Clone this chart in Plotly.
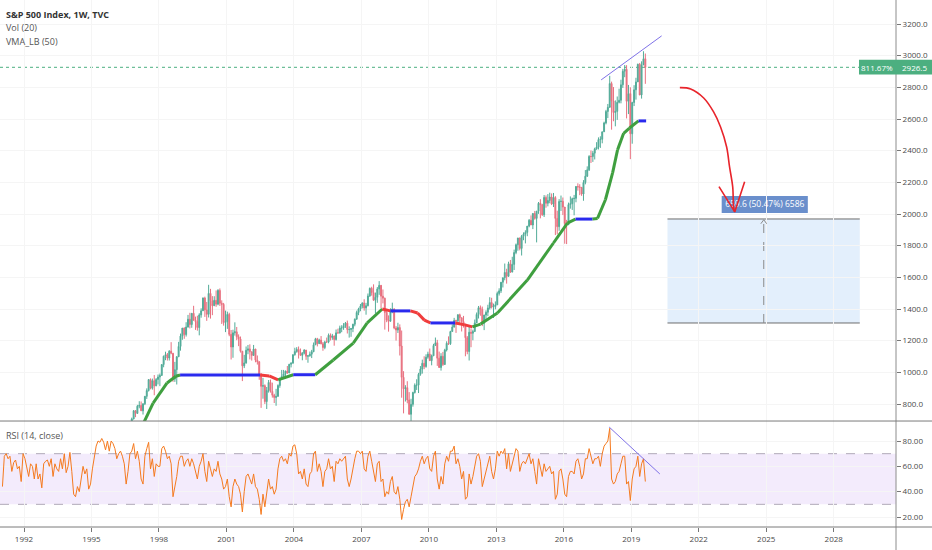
import plotly.graph_objects as go

# ---------------- DATA ----------------
candle_start_year = 1996
candle_start_month = 7
prev_close = 670.6

closes = [
    639.9, 651.99, 687.3, 705.3, 757.0, 740.7,
    786.2, 791.0, 757.1, 801.3, 848.3, 885.1, 954.3, 899.5, 947.3, 914.6, 955.4, 970.4,
    980.3, 1049.3, 1101.8, 1111.8, 1090.8, 1133.8, 1120.7, 957.3, 1017.0, 1098.7, 1163.6, 1229.2,
    1279.6, 1238.3, 1286.4, 1335.2, 1301.8, 1372.7, 1328.7, 1320.4, 1282.7, 1362.9, 1388.9, 1469.3,
    1394.5, 1366.4, 1498.6, 1452.4, 1420.6, 1454.6, 1430.8, 1517.7, 1436.5, 1429.4, 1315.2, 1320.3,
    1366.0, 1239.9, 1160.3, 1249.5, 1255.8, 1224.4, 1211.2, 1133.6, 1040.9, 1059.8, 1139.5, 1148.1,
    1130.2, 1106.7, 1147.4, 1076.9, 1067.1, 989.8, 911.6, 916.1, 815.3, 885.8, 936.3, 879.8,
    855.7, 841.2, 848.2, 916.9, 963.6, 974.5, 990.3, 1008.0, 996.0, 1050.7, 1058.2, 1111.9,
    1131.1, 1144.9, 1126.2, 1107.3, 1120.7, 1140.8, 1101.7, 1104.2, 1114.6, 1130.2, 1173.8, 1211.9,
    1181.3, 1203.6, 1180.6, 1156.9, 1191.5, 1191.3, 1234.2, 1220.3, 1228.8, 1207.0, 1249.5, 1248.3,
    1280.1, 1280.7, 1294.8, 1310.6, 1270.1, 1270.2, 1276.7, 1303.8, 1335.9, 1377.9, 1400.6, 1418.3,
    1438.2, 1406.8, 1420.9, 1482.4, 1530.6, 1503.4, 1455.3, 1474.0, 1526.8, 1549.4, 1481.1, 1468.4,
    1378.6, 1330.6, 1322.7, 1385.6, 1400.4, 1280.0, 1267.4, 1282.8, 1166.4, 968.8, 896.2, 903.3,
    825.9, 735.1, 797.9, 872.8, 919.1, 919.3, 987.5, 1020.6, 1057.1, 1036.2, 1095.6, 1115.1,
    1073.9, 1104.5, 1169.4, 1186.7, 1089.4, 1030.7, 1101.6, 1049.3, 1141.2, 1183.3, 1180.6, 1257.6,
    1286.1, 1327.2, 1325.8, 1363.6, 1345.2, 1320.6, 1292.3, 1218.9, 1131.4, 1253.3, 1247.0, 1257.6,
    1312.4, 1365.7, 1408.5, 1397.9, 1310.3, 1362.2, 1379.3, 1406.6, 1440.7, 1412.2, 1416.2, 1426.2,
    1498.1, 1514.7, 1569.2, 1597.6, 1630.7, 1606.3, 1685.7, 1633.0, 1681.6, 1756.5, 1805.8, 1848.4,
    1782.6, 1859.5, 1872.3, 1883.9, 1923.6, 1960.2, 1930.7, 2003.4, 1972.3, 2018.1, 2067.6, 2058.9,
    1995.0, 2104.5, 2067.9, 2085.5, 2107.4, 2063.1, 2103.8, 1972.2, 1920.0, 2079.4, 2080.4, 2043.9,
    1940.2, 1932.2, 2059.7, 2065.3, 2096.9, 2098.9, 2173.6, 2171.0, 2168.3, 2126.2, 2199.0, 2238.8,
    2278.9, 2363.6, 2362.7, 2384.2, 2411.8, 2423.4, 2470.3, 2471.7, 2519.4, 2575.3, 2647.6, 2673.6,
    2823.8, 2713.8, 2640.9, 2648.1, 2705.3, 2718.4, 2816.3, 2901.5, 2914.0, 2711.7, 2760.2, 2506.9,
    2704.1, 2784.5, 2834.4, 2945.8, 2752.1, 2941.8, 2980.4, 2926.5,
]

highs = [
    672.0, 665.5, 690.9, 714.1, 762.1, 761.8,
    794.7, 817.7, 816.0, 804.0, 851.0, 898.7, 957.7, 961.6, 960.5, 983.1, 963.7, 986.3,
    992.6, 1050.7, 1105.7, 1130.5, 1122.1, 1140.0, 1190.6, 1121.0, 1066.1, 1102.0, 1192.7, 1244.9,
    1280.0, 1283.8, 1316.5, 1362.8, 1376.0, 1372.9, 1420.3, 1352.0, 1357.7, 1373.2, 1404.4, 1473.1,
    1478.0, 1444.6, 1552.9, 1527.2, 1481.5, 1480.8, 1517.3, 1525.2, 1530.1, 1454.8, 1438.5, 1389.9,
    1383.4, 1376.4, 1267.4, 1269.3, 1315.9, 1286.6, 1239.8, 1226.3, 1134.6, 1110.6, 1163.4, 1173.0,
    1177.0, 1130.2, 1173.0, 1147.8, 1106.6, 1070.7, 994.5, 965.0, 924.0, 907.4, 951.6, 954.3,
    935.0, 864.6, 895.9, 924.2, 965.4, 1015.3, 1015.4, 1011.0, 1040.0, 1053.8, 1063.4, 1112.6,
    1155.4, 1159.0, 1163.2, 1150.6, 1127.7, 1146.2, 1140.8, 1109.7, 1131.5, 1142.0, 1188.5, 1217.9,
    1217.8, 1212.4, 1229.1, 1191.9, 1199.6, 1219.6, 1245.2, 1245.9, 1243.1, 1233.3, 1270.6, 1275.8,
    1294.9, 1297.6, 1310.9, 1318.2, 1326.7, 1290.7, 1280.4, 1306.7, 1340.3, 1389.5, 1407.9, 1431.8,
    1441.6, 1461.6, 1438.9, 1498.0, 1535.6, 1540.6, 1555.9, 1503.9, 1538.7, 1576.1, 1545.8, 1523.6,
    1471.8, 1396.0, 1359.7, 1404.6, 1440.2, 1404.0, 1292.2, 1313.2, 1303.0, 1264.1, 1007.5, 918.9,
    943.9, 875.0, 833.0, 877.6, 930.2, 956.2, 996.7, 1039.5, 1080.2, 1101.4, 1113.7, 1130.4,
    1150.5, 1112.4, 1180.2, 1219.8, 1205.1, 1131.2, 1121.0, 1129.2, 1148.9, 1196.1, 1227.1, 1262.6,
    1302.7, 1344.1, 1332.3, 1366.6, 1370.6, 1345.2, 1356.5, 1307.4, 1229.3, 1293.0, 1277.6, 1269.4,
    1333.5, 1378.0, 1419.2, 1422.4, 1415.3, 1363.5, 1391.7, 1426.7, 1474.5, 1471.0, 1434.3, 1448.0,
    1509.9, 1530.9, 1570.3, 1597.6, 1687.2, 1654.2, 1698.8, 1709.7, 1729.9, 1775.2, 1813.6, 1849.4,
    1850.8, 1867.9, 1884.0, 1897.3, 1924.0, 1968.2, 1991.4, 2005.0, 2019.3, 2018.2, 2075.8, 2093.6,
    2064.4, 2119.6, 2117.5, 2125.9, 2134.7, 2129.9, 2132.8, 2112.7, 2020.9, 2094.3, 2116.5, 2104.3,
    2038.2, 1963.0, 2072.2, 2111.1, 2103.5, 2120.6, 2177.1, 2193.8, 2187.9, 2169.6, 2214.1, 2277.5,
    2301.0, 2371.5, 2401.0, 2398.2, 2418.7, 2453.8, 2484.0, 2490.9, 2519.4, 2583.0, 2657.7, 2695.0,
    2872.9, 2836.0, 2801.9, 2717.5, 2742.2, 2791.5, 2848.0, 2916.5, 2940.9, 2939.9, 2815.2, 2800.2,
    2709.0, 2813.5, 2860.3, 2949.5, 2954.1, 2964.2, 3028.0, 3013.6,
]

lows = [
    605.9, 639.0, 649.6, 684.3, 703.8, 716.7,
    737.0, 773.0, 756.0, 733.5, 793.0, 832.0, 879.0, 893.0, 891.0, 855.3, 912.8, 923.9,
    912.8, 979.6, 1032.0, 1076.7, 1074.4, 1074.5, 1114.3, 940.0, 939.8, 923.3, 1096.7, 1136.9,
    1205.5, 1211.9, 1226.0, 1282.3, 1277.5, 1281.4, 1328.2, 1268.1, 1263.2, 1233.7, 1345.0, 1387.4,
    1350.1, 1325.1, 1346.6, 1339.4, 1361.1, 1420.6, 1413.9, 1423.6, 1419.4, 1305.8, 1294.9, 1254.1,
    1274.6, 1228.3, 1081.2, 1092.0, 1232.0, 1203.0, 1165.5, 1124.9, 944.8, 1026.8, 1054.3, 1114.5,
    1081.7, 1074.4, 1106.7, 1063.5, 1049.0, 952.9, 775.7, 833.4, 800.2, 768.6, 872.1, 872.0,
    840.3, 806.3, 788.9, 847.9, 902.8, 963.6, 962.1, 960.8, 990.4, 996.0, 1031.2, 1055.3,
    1105.1, 1124.4, 1087.2, 1105.6, 1076.3, 1113.3, 1078.8, 1060.7, 1099.2, 1090.2, 1127.6, 1173.4,
    1163.8, 1180.5, 1176.9, 1136.2, 1146.2, 1188.3, 1183.6, 1201.1, 1205.4, 1168.2, 1201.1, 1246.6,
    1245.7, 1253.6, 1268.4, 1280.7, 1245.3, 1219.3, 1224.5, 1253.9, 1290.9, 1331.9, 1361.0, 1385.9,
    1404.0, 1389.4, 1364.0, 1416.4, 1476.7, 1484.2, 1454.3, 1370.6, 1439.3, 1489.6, 1406.1, 1435.7,
    1270.0, 1316.8, 1257.0, 1324.4, 1373.7, 1272.0, 1200.4, 1248.6, 1106.4, 839.8, 741.0, 815.7,
    804.3, 734.5, 666.8, 783.3, 866.1, 888.9, 869.3, 978.5, 992.0, 1020.0, 1029.4, 1085.9,
    1071.6, 1044.5, 1105.2, 1170.7, 1040.8, 1028.3, 1010.9, 1039.7, 1048.1, 1131.9, 1173.0, 1173.0,
    1257.6, 1282.9, 1249.0, 1302.6, 1311.8, 1258.1, 1282.9, 1101.5, 1114.2, 1074.8, 1158.7, 1202.4,
    1258.9, 1312.4, 1340.0, 1357.4, 1292.0, 1266.7, 1325.4, 1354.7, 1396.6, 1403.3, 1343.4, 1398.1,
    1426.2, 1485.0, 1501.5, 1536.0, 1581.3, 1560.3, 1604.6, 1627.5, 1633.4, 1646.5, 1746.2, 1768.0,
    1770.5, 1737.9, 1834.4, 1814.4, 1859.8, 1916.0, 1930.7, 1904.8, 1964.0, 1820.7, 2001.0, 1972.6,
    1988.1, 1980.9, 2039.7, 2048.4, 2067.9, 2056.3, 2044.0, 1867.0, 1871.9, 1893.7, 2019.4, 1993.3,
    1812.3, 1810.1, 1937.1, 2033.8, 2025.9, 1991.7, 2074.0, 2147.6, 2119.1, 2114.7, 2083.8, 2187.4,
    2233.6, 2271.7, 2322.3, 2329.0, 2344.5, 2405.7, 2407.7, 2417.4, 2446.6, 2520.4, 2566.3, 2605.5,
    2682.4, 2532.7, 2585.9, 2553.8, 2594.6, 2698.7, 2699.0, 2796.3, 2864.1, 2603.5, 2631.1, 2346.6,
    2444.0, 2681.8, 2722.3, 2848.6, 2750.5, 2728.8, 2952.2, 2822.1,
]

rsi_start_year = 1991
rsi_values = [
    44, 68, 70, 66, 68, 56, 63, 65, 58, 60, 48, 70,
    66, 60, 52, 62, 60, 50, 62, 50, 54, 43, 62, 64,
    65, 60, 66, 52, 62, 58, 56, 66, 58, 70, 55, 60,
    71, 56, 38, 36, 44, 40, 52, 60, 54, 58, 42, 46,
    58, 66, 76, 80, 79, 82, 79, 73, 80, 72, 80, 78,
    74, 66, 70, 72, 68, 62, 46, 56, 70, 72, 78, 66,
    72, 64, 50, 46, 68, 74, 79, 58, 66, 52, 62, 60,
    60, 74, 76, 72, 66, 68, 62, 36, 44, 52, 64, 68,
    68, 60, 64, 66, 60, 66, 62, 56, 50, 60, 64, 70,
    56, 48, 64, 58, 52, 58, 56, 64, 54, 50, 42, 44,
    50, 36, 28, 44, 50, 46, 44, 38, 24, 40, 52, 54,
    50, 46, 54, 44, 42, 34, 22, 38, 28, 40, 50, 42,
    44, 38, 42, 58, 66, 68, 64, 66, 62, 70, 68, 76,
    77, 70, 54, 56, 50, 58, 46, 44, 54, 56, 70, 72,
    56, 62, 56, 44, 56, 58, 66, 58, 60, 48, 64, 62,
    66, 64, 66, 68, 50, 44, 50, 60, 66, 72, 72, 70,
    72, 58, 56, 68, 72, 64, 54, 48, 62, 64, 48, 50,
    36, 40, 38, 48, 52, 40, 38, 44, 34, 18, 26, 32,
    34, 28, 36, 46, 52, 54, 58, 64, 68, 62, 66, 68,
    58, 56, 68, 72, 50, 42, 52, 46, 62, 68, 64, 72,
    72, 76, 62, 66, 60, 50, 56, 34, 36, 54, 46, 52,
    62, 68, 70, 64, 44, 50, 58, 64, 68, 56, 50, 58,
    72, 68, 72, 70, 74, 58, 70, 56, 62, 68, 74, 72,
    56, 62, 64, 62, 66, 70, 62, 66, 56, 46, 66, 60,
    52, 62, 56, 58, 60, 54, 56, 34, 38, 56, 58, 50,
    38, 36, 52, 56, 56, 54, 64, 66, 60, 50, 54, 66,
    66, 74, 68, 62, 66, 66, 68, 60, 70, 76, 78, 80,
    90, 50, 46, 48, 54, 56, 62, 68, 68, 46, 48, 33,
    50, 58, 60, 68, 52, 62, 66, 48,
]

# VMA_LB (50): points (decimal year, value) and the colour state of the segment ending at each point
vma_years = [1997.25, 1997.74, 1998.36, 1998.75, 1998.94,
             2002.50,
             2002.90, 2003.30,
             2003.97,
             2004.95,
             2005.75, 2006.64, 2007.26, 2007.93,
             2008.29,
             2009.18,
             2009.50, 2009.80, 2010.07,
             2011.18,
             2011.60, 2011.94,
             2012.30, 2013.05, 2014.38, 2015.54, 2016.16, 2016.52,
             2017.28,
             2017.50, 2017.85, 2018.17, 2018.39, 2018.66, 2018.92, 2019.32,
             2019.66]
vma_values = [660, 806, 933, 975, 983,
              983,
              977, 952,
              985,
              985,
              1078, 1185, 1312, 1400,
              1388,
              1388,
              1375, 1330, 1312,
              1312,
              1300, 1287,
              1305, 1375, 1583, 1817, 1943, 1968,
              1968,
              1972, 2090, 2260, 2405, 2510, 2543, 2588,
              2588]
vma_state = ["up", "up", "up", "up", "up",
             "flat",
             "down", "down",
             "up",
             "flat",
             "up", "up", "up", "up",
             "down",
             "flat",
             "down", "down", "down",
             "flat",
             "down", "down",
             "up", "up", "up", "up", "up", "up",
             "flat",
             "up", "up", "up", "up", "up", "up", "up",
             "flat"]

last_price = 2926.5
last_pct = "811.67%"

# drawings
price_trend_years = [2017.66, 2020.35]
price_trend_values = [2847, 3125]
rsi_trend_years = [2018.02, 2020.27]
rsi_trend_values = [91, 54]
arrow_years = [2021.16, 2021.64, 2022.22, 2022.66, 2022.97, 2023.24, 2023.37, 2023.51, 2023.55, 2023.60]
arrow_values = [2798, 2790, 2733, 2645, 2550, 2423, 2297, 2171, 2044, 2013]
arrow_head_years = [2022.90, 2023.60, 2024.04]
arrow_head_values = [2173, 2013, 2204]
range_box_years = [2020.61, 2029.16]
range_box_values = [1311.7, 1968.7]
range_mid_year = 2024.89
range_label = "659.6 (50.47%) 6586"
range_label_years = [2023.02, 2026.85]
range_label_values = [2007, 2114]

year_ticks = [1992, 1995, 1998, 2001, 2004, 2007, 2010, 2013, 2016, 2019, 2022, 2025, 2028]
year_labels = [str(y) for y in year_ticks]
price_ticks = [800, 1000, 1200, 1400, 1600, 1800, 2000, 2200, 2400, 2600, 2800, 3000, 3200]
rsi_ticks = [20, 40, 60, 80]

# ---------------- FIGURE ----------------
n = len(closes)
cx = [candle_start_year + (candle_start_month - 1 + i + 0.5) / 12 for i in range(n)]
opens = [prev_close] + closes[:-1]
rx = [rsi_start_year + (i + 0.5) / 12 for i in range(len(rsi_values))]

X0, X1 = 1990.933, 2030.77
fig = go.Figure()

# RSI band
fig.add_shape(type="rect", xref="x", yref="y2", x0=X0, x1=X1, y0=30, y1=70,
              fillcolor="#f3ebfc", line_width=0, layer="below")
for lvl in (30, 70):
    fig.add_shape(type="line", xref="x", yref="y2", x0=X0, x1=X1, y0=lvl, y1=lvl,
                  line=dict(color="#b0aab8", width=1, dash="dash"), layer="below")

# price range measurement box
fig.add_shape(type="rect", xref="x", yref="y", x0=range_box_years[0], x1=range_box_years[1],
              y0=range_box_values[0], y1=range_box_values[1], fillcolor="#e3effc", line_width=0, layer="below")
for v in range_box_values:
    fig.add_shape(type="line", xref="x", yref="y", x0=range_box_years[0], x1=range_box_years[1],
                  y0=v, y1=v, line=dict(color="#6e6e6e", width=1), layer="below")
fig.add_shape(type="line", xref="x", yref="y", x0=range_mid_year, x1=range_mid_year,
              y0=range_box_values[0], y1=range_box_values[1] - 5,
              line=dict(color="#8a8a8a", width=1, dash="dash"), layer="below")
fig.add_shape(type="rect", xref="x", yref="y", x0=range_label_years[0], x1=range_label_years[1],
              y0=range_label_values[0], y1=range_label_values[1], fillcolor="#6a8fcc",
              line_width=0, layer="below")

# last price dotted line
fig.add_shape(type="line", xref="paper", yref="y", x0=0, x1=0.9587, y0=last_price, y1=last_price,
              line=dict(color="#4caf80", width=1, dash="dot"), layer="below")

fig.add_trace(go.Candlestick(
    x=cx, open=opens, high=highs, low=lows, close=closes,
    increasing=dict(line=dict(color="#52ab98", width=1), fillcolor="#52ab98"),
    decreasing=dict(line=dict(color="#e8707f", width=1), fillcolor="#e8707f"),
    whiskerwidth=0, yaxis="y", xaxis="x", hoverinfo="skip"))

vcol = {"up": "#3f9f3f", "flat": "#2a2aee", "down": "#f03c3c"}
for i in range(1, len(vma_years)):
    fig.add_trace(go.Scatter(x=[vma_years[i - 1], vma_years[i]], y=[vma_values[i - 1], vma_values[i]],
                             mode="lines", line=dict(color=vcol[vma_state[i]], width=3, shape="linear"),
                             yaxis="y", xaxis="x", hoverinfo="skip"))

fig.add_trace(go.Scatter(x=price_trend_years, y=price_trend_values, mode="lines",
                         line=dict(color="#7f72e8", width=1), yaxis="y", hoverinfo="skip"))

fig.add_trace(go.Scatter(x=rx, y=rsi_values, mode="lines", line=dict(color="#f57a1f", width=1),
                         yaxis="y2", xaxis="x", hoverinfo="skip"))
fig.add_trace(go.Scatter(x=rsi_trend_years, y=rsi_trend_values, mode="lines",
                         line=dict(color="#7f72e8", width=1), yaxis="y2", hoverinfo="skip"))

# small up-arrow on the dashed measuring line
fig.add_trace(go.Scatter(x=[range_mid_year - 0.13, range_mid_year, range_mid_year + 0.13],
                         y=[range_box_values[1] - 30, range_box_values[1] - 5, range_box_values[1] - 30],
                         mode="lines", line=dict(color="#8a8a8a", width=1), yaxis="y", hoverinfo="skip"))

# range label text
fig.add_trace(go.Scatter(x=[sum(range_label_years) / 2], y=[sum(range_label_values) / 2], mode="text",
                         text=[range_label], textfont=dict(family="Open Sans", size=8.5, color="white"),
                         yaxis="y", hoverinfo="skip"))

# red hand-drawn arrow (on top)
fig.add_trace(go.Scatter(x=arrow_years, y=arrow_values, mode="lines",
                         line=dict(color="#e8242b", width=1.6, shape="spline"), yaxis="y", hoverinfo="skip"))
fig.add_trace(go.Scatter(x=arrow_head_years, y=arrow_head_values, mode="lines",
                         line=dict(color="#e8242b", width=1.6), yaxis="y", hoverinfo="skip"))

# frame lines
PB = 0.2011
fig.add_shape(type="line", xref="paper", yref="paper", x0=1, x1=1, y0=-0.0437, y1=1,
              line=dict(color="#8c8c8c", width=1), layer="above")
fig.add_shape(type="line", xref="paper", yref="paper", x0=0, x1=1.0402, y0=PB, y1=PB,
              line=dict(color="#7a7a7a", width=1), layer="above")
fig.add_shape(type="line", xref="paper", yref="paper", x0=0, x1=1.0402, y0=0, y1=0,
              line=dict(color="#7a7a7a", width=1), layer="above")

# last price tag
fig.add_shape(type="rect", xref="paper", yref="y", x0=0.9587, x1=1.0402,
              y0=last_price - 45, y1=last_price + 47, fillcolor="#4caf80", line_width=0, layer="above")
fig.add_annotation(x=0.979, xref="paper", y=last_price, yref="y", text=last_pct, showarrow=False,
                   font=dict(family="Open Sans", size=8, color="white"), xanchor="center", yanchor="middle")
fig.add_annotation(x=1.0201, xref="paper", y=last_price, yref="y", text=f"{last_price:.1f}", showarrow=False,
                   font=dict(family="Open Sans", size=8, color="white"), xanchor="center", yanchor="middle")

# legend texts
legend_lines = [("<b>S&P 500 Index, 1W, TVC</b>", 0.9734, "#333333"),
                ("Vol (20)", 0.9478, "#555555"),
                ("VMA_LB (50)", 0.9222, "#555555")]
for txt, yy, col in legend_lines:
    fig.add_annotation(x=0.0045, xref="paper", y=yy, yref="paper", text=txt, showarrow=False,
                       xanchor="left", yanchor="middle", font=dict(family="Open Sans", size=9, color=col))
fig.add_annotation(x=0.0045, xref="paper", y=0.1733, yref="paper", text="RSI (14, close)", showarrow=False,
                   xanchor="left", yanchor="middle", font=dict(family="Open Sans", size=9, color="#555555"))

fig.update_layout(
    width=932, height=550, margin=dict(l=0, r=36, t=0, b=23),
    paper_bgcolor="white", plot_bgcolor="white", showlegend=False,
    font=dict(family="Open Sans", size=8, color="#4a4a4a"),
    xaxis=dict(range=[X0, X1], tickvals=year_ticks, ticktext=year_labels, anchor="y2",
               showgrid=True, gridcolor="#f5f5f5", zeroline=False, showline=False,
               ticks="outside", ticklen=4, tickcolor="#777", rangeslider=dict(visible=False),
               tickfont=dict(size=8, color="#4a4a4a")),
    yaxis=dict(domain=[PB, 1], range=[692.6, 3351.6], side="right", tickvals=price_ticks,
               tickformat=".1f", ticks="outside", ticklen=4, tickcolor="#777", showgrid=True,
               gridcolor="#f5f5f5", zeroline=False, showline=False, anchor="x",
               tickfont=dict(size=8, color="#4a4a4a")),
    yaxis2=dict(domain=[0, PB], range=[12.1, 95.79], side="right", tickvals=rsi_ticks,
                tickformat=".2f", ticks="outside", ticklen=4, tickcolor="#777", showgrid=True,
                gridcolor="#f5f5f5", zeroline=False, showline=False, anchor="x",
                tickfont=dict(size=8, color="#4a4a4a")),
)

fig.write_html("out.html", config={"displayModeBar": False},
               post_script="document.body.style.margin='0';document.body.style.overflow='hidden';")
